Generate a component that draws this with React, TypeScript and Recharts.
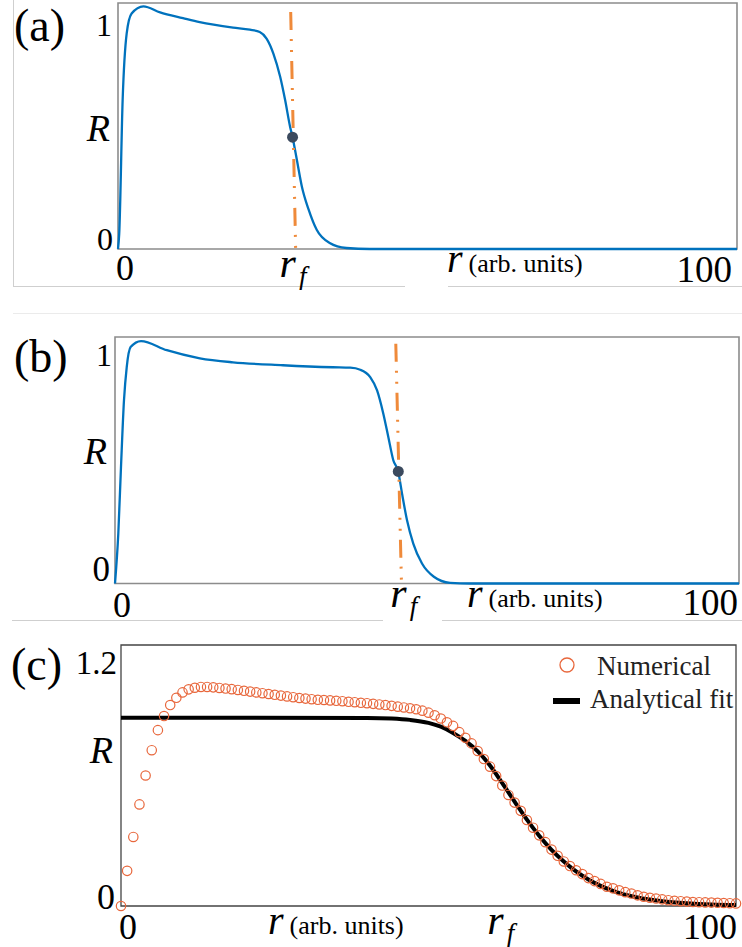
import React from 'react';
import {
  ComposedChart, Line, Scatter, XAxis, YAxis, Label, Legend,
  ReferenceArea, ReferenceLine, ReferenceDot,
} from 'recharts';

const SERIF = 'Liberation Serif, DejaVu Serif, serif';
const BLUE = '#0072bd';
const ORANGE = '#ef8a3a';
const DOT = '#3b4a5e';
const CIRCLE = '#e8673c';

// (a) profile R(r) with the front at r_f
const rA = [0, 0.2, 0.75, 1.4, 2.2, 4.1, 6.8, 10.5, 13.2, 18.6, 21.3, 22.9, 24.0, 25.1, 26.2, 27.0, 27.8, 28.2, 28.9, 29.7, 30.8, 32.1, 34.2, 36.9, 40.7, 60, 100];
const RA = [0, 0.07, 0.666, 0.963, 1.053, 1.085, 1.058, 1.032, 1.014, 0.99, 0.981, 0.97, 0.941, 0.874, 0.77, 0.666, 0.547, 0.5, 0.398, 0.28, 0.176, 0.086, 0.027, 0.0045, 0, 0, 0];
const frontA = 28.2;
const frontRA = 0.5;
const markerA = [{ r: 27.9, R: 1.06 }, { r: 28.7, R: 0 }];

// (b) same profile, front further out
const rB = [0, 0.53, 0.96, 1.44, 1.88, 2.5, 4.17, 8.3, 13.6, 18.9, 26.9, 34.9, 37.7, 39.3, 40.9, 42.0, 43.0, 43.8, 44.6, 45.4, 46.0, 46.8, 47.8, 49.2, 51.1, 53.7, 56.9, 80, 100];
const RB = [0, 0.223, 0.52, 0.818, 0.966, 1.055, 1.082, 1.041, 1.005, 0.987, 0.974, 0.965, 0.963, 0.954, 0.921, 0.862, 0.758, 0.654, 0.55, 0.498, 0.401, 0.282, 0.178, 0.089, 0.03, 0.003, 0, 0, 0];
const frontB = 45.4;
const frontRB = 0.5;
const markerB = [{ r: 45.0, R: 1.07 }, { r: 45.9, R: 0.01 }];

// (c) numerical solution on the unit grid vs analytical fit
const rNum = Array.from({ length: 101 }, (_, i) => i);
const RNum = [
  0, 0.175, 0.344, 0.506, 0.65, 0.776, 0.876, 0.946, 1.001, 1.037,
  1.064, 1.079, 1.087, 1.091, 1.091, 1.089, 1.086, 1.083, 1.08, 1.076,
  1.072, 1.068, 1.064, 1.06, 1.056, 1.052, 1.048, 1.044, 1.04, 1.036,
  1.033, 1.03, 1.027, 1.026, 1.024, 1.022, 1.02, 1.017, 1.015, 1.012,
  1.01, 1.007, 1.004, 1.001, 0.997, 0.993, 0.989, 0.985, 0.98, 0.973,
  0.963, 0.95, 0.934, 0.915, 0.897, 0.866, 0.838, 0.81, 0.772, 0.732,
  0.694, 0.647, 0.6, 0.553, 0.515, 0.474, 0.428, 0.39, 0.352, 0.318,
  0.281, 0.25, 0.222, 0.199, 0.178, 0.159, 0.139, 0.124, 0.11, 0.096,
  0.088, 0.078, 0.069, 0.062, 0.053, 0.046, 0.041, 0.037, 0.033, 0.029,
  0.026, 0.024, 0.022, 0.02, 0.019, 0.018, 0.017, 0.016, 0.015, 0.014,
  0.013,
];
const rFit = [0, 20, 40, 44, 47, 50, 52, 54, 56, 58, 60, 62, 64, 66, 68, 70, 72, 74, 76, 78, 80, 84, 88, 92, 96, 100];
const RFit = [0.938, 0.938, 0.937, 0.934, 0.927, 0.912, 0.893, 0.862, 0.822, 0.77, 0.7, 0.612, 0.52, 0.43, 0.35, 0.28, 0.222, 0.172, 0.132, 0.1, 0.075, 0.042, 0.024, 0.014, 0.008, 0.005];
const frontC = 62;

const yTicksAB = [0, 1];
const yTicksC = [0, 1.2];

const zip = (xs: number[], ys: number[]) => xs.map((r, i) => ({ r, R: ys[i] }));
const dataA = zip(rA, RA);
const dataB = zip(rB, RB);
const numData = zip(rNum, RNum);
const fitData = zip(rFit, RFit);

type Spec = { dx: number; dy: number; size: number };

const serif = (size: number, italic = false): React.CSSProperties => ({
  fontFamily: SERIF,
  fontSize: size,
  fontStyle: italic ? 'italic' : 'normal',
});

const yTick = (specs: Record<string, Spec>) => (props: any) => {
  const { x, y, payload } = props;
  const s = specs[String(payload.value)];
  return (
    <text x={x + s.dx} y={y + s.dy} textAnchor="end" style={serif(s.size)} fill="#000">
      {payload.value}
    </text>
  );
};

const xTick = (zero: Spec, front: Spec, end: Spec) => (props: any) => {
  const { x, y, payload } = props;
  const v = payload.value;
  if (v === 0) {
    return <text x={x + zero.dx} y={y + zero.dy} textAnchor="middle" style={serif(zero.size)} fill="#000">0</text>;
  }
  if (v === 100) {
    return <text x={x + end.dx} y={y + end.dy} textAnchor="end" style={serif(end.size)} fill="#000">100</text>;
  }
  return (
    <text x={x + front.dx} y={y + front.dy} style={serif(front.size, true)} fill="#000">
      r<tspan style={serif(27, true)} dx={3} dy={8}>f</tspan>
    </text>
  );
};

// panel tag and the R axis title, placed inside the y-axis box
const sideLabel = (tag: string, tagX: number, tagDy: number, rRight: number, rFrac: number) => (props: any) => {
  const { x, y, height } = props.viewBox;
  return (
    <g>
      <text x={x + tagX} y={y + tagDy} style={serif(46)} fill="#000">{tag}</text>
      <text x={x + rRight} y={y + rFrac * height} textAnchor="end" style={serif(38, true)} fill="#000">R</text>
    </g>
  );
};

const unitsLabel = (frac: number, dy: number) => (props: any) => {
  const { x, y, width } = props.viewBox;
  return (
    <text x={x + frac * width} y={y + dy} fill="#000">
      <tspan style={serif(40, true)}>r</tspan>
      <tspan style={serif(26)} dx={6}>(arb. units)</tspan>
    </text>
  );
};

const renderLegend = (props: any) => {
  const items = [...(props.payload || [])].sort((a: any) => (a.type === 'circle' ? -1 : 1));
  return (
    <svg width={200} height={80}>
      {items.map((it: any, i: number) =>
        it.type === 'circle' ? (
          <g key={i}>
            <circle cx={22} cy={20} r={7} fill="none" stroke={CIRCLE} strokeWidth={1.3} />
            <text x={52} y={30} style={serif(27)} fill="#222">{it.value}</text>
          </g>
        ) : (
          <g key={i}>
            <rect x={8} y={53} width={27} height={6} fill="#000" />
            <text x={45} y={63} style={serif(27)} fill="#222">{it.value}</text>
          </g>
        ),
      )}
    </svg>
  );
};

const ringShape = (p: any) => (
  <circle cx={p.cx} cy={p.cy} r={4.7} fill="none" stroke={CIRCLE} strokeWidth={1.2} />
);

const hLine = (left: number, top: number, width: number, color: string) => (
  <div style={{ position: 'absolute', left, top, width, height: 1, background: color }} />
);

export default function App() {
  return (
    <div style={{ position: 'absolute', left: 0, top: 0, width: 742, height: 947, background: '#fff', overflow: 'hidden', fontFamily: SERIF }}>
      {/* thin page rules between the panels */}
      <div style={{ position: 'absolute', left: 13, top: 0, width: 1, height: 286, background: '#cfcfcf' }} />
      {hLine(13, 286, 392, '#cfcfcf')}
      {hLine(448, 286, 294, '#cfcfcf')}
      {hLine(13, 313, 729, '#ebebeb')}
      {hLine(12, 620, 371, '#cfcfcf')}
      {hLine(442, 620, 300, '#cfcfcf')}

      {/* (a) */}
      <div style={{ position: 'absolute', left: 0, top: 0 }}>
        <ComposedChart width={742} height={290} data={dataA} margin={{ top: 3, right: 5, bottom: 0, left: 0 }}>
          <XAxis
            type="number" dataKey="r" domain={[0, 100]} ticks={[0, frontA, 100]} interval={0}
            axisLine={false} tickLine={false} tickSize={0} tickMargin={0} height={41}
            tick={xTick({ dx: 7, dy: 31, size: 36 }, { dx: -13, dy: 28, size: 42 }, { dx: -5, dy: 33, size: 37 })}
          >
            <Label content={unitsLabel(0.5315, 23)} />
          </XAxis>
          <YAxis
            type="number" domain={[0, 1.1]} ticks={yTicksAB} interval={0}
            axisLine={false} tickLine={false} tickSize={0} tickMargin={0} width={118}
            tick={yTick({ '1': { dx: -6, dy: 11, size: 32 }, '0': { dx: -5, dy: 1, size: 32 } })}
          >
            <Label content={sideLabel('(a)', 14, 38, 110, 0.56)} />
          </YAxis>
          <ReferenceArea x1={0} x2={100} y1={0} y2={1.1} fill="none" stroke="#8c8c8c" strokeWidth={1.6} />
          <Line type="monotone" dataKey="R" stroke={BLUE} strokeWidth={2.3} dot={false} isAnimationActive={false} />
          <ReferenceLine
            segment={[{ x: markerA[0].r, y: markerA[0].R }, { x: markerA[1].r, y: markerA[1].R }]}
            stroke={ORANGE} strokeWidth={3} strokeDasharray="18 9 2 9 2 9"
          />
          <ReferenceDot x={frontA} y={frontRA} r={5.5} fill={DOT} stroke="none" />
        </ComposedChart>
      </div>

      {/* (b) */}
      <div style={{ position: 'absolute', left: 0, top: 300 }}>
        <ComposedChart width={742} height={325} data={dataB} margin={{ top: 37, right: 3, bottom: 0, left: 0 }}>
          <XAxis
            type="number" dataKey="r" domain={[0, 100]} ticks={[0, frontB, 100]} interval={0}
            axisLine={false} tickLine={false} tickSize={0} tickMargin={0} height={41.5}
            tick={xTick({ dx: 7, dy: 33.5, size: 36 }, { dx: -8, dy: 23.5, size: 42 }, { dx: -1, dy: 31.5, size: 37 })}
          >
            <Label content={unitsLabel(0.564, 23.5)} />
          </XAxis>
          <YAxis
            type="number" domain={[0, 1.1]} ticks={yTicksAB} interval={0}
            axisLine={false} tickLine={false} tickSize={0} tickMargin={0} width={115}
            tick={yTick({ '1': { dx: -3, dy: 7, size: 32 }, '0': { dx: -5, dy: -2.5, size: 35 } })}
          >
            <Label content={sideLabel('(b)', 14, 35, 107, 0.515)} />
          </YAxis>
          <ReferenceArea x1={0} x2={100} y1={0} y2={1.1} fill="none" stroke="#8c8c8c" strokeWidth={1.6} />
          <Line type="monotone" dataKey="R" stroke={BLUE} strokeWidth={2.3} dot={false} isAnimationActive={false} />
          <ReferenceLine
            segment={[{ x: markerB[0].r, y: markerB[0].R }, { x: markerB[1].r, y: markerB[1].R }]}
            stroke={ORANGE} strokeWidth={3} strokeDasharray="18 9 2 9 2 9"
          />
          <ReferenceDot x={frontB} y={frontRB} r={5.5} fill={DOT} stroke="none" />
        </ComposedChart>
      </div>

      {/* (c) */}
      <div style={{ position: 'absolute', left: 0, top: 625 }}>
        <ComposedChart width={742} height={322} margin={{ top: 20, right: 6, bottom: 0, left: 0 }}>
          <XAxis
            type="number" dataKey="r" domain={[0, 100]} ticks={[0, frontC, 100]} interval={0}
            axisLine={false} tickLine={false} tickSize={0} tickMargin={0} height={41}
            tick={xTick({ dx: 7, dy: 33, size: 36 }, { dx: -15, dy: 28, size: 42 }, { dx: 1, dy: 33, size: 36 })}
          >
            <Label content={unitsLabel(0.239, 28)} />
          </XAxis>
          <YAxis
            type="number" domain={[0, 1.3]} ticks={yTicksC} interval={0}
            axisLine={false} tickLine={false} tickSize={0} tickMargin={0} width={121}
            tick={yTick({ '1.2': { dx: -4, dy: 9, size: 33 }, '0': { dx: -6, dy: 3, size: 36 } })}
          >
            <Label content={sideLabel('(c)', 11, 35, 113, 0.452)} />
          </YAxis>
          <ReferenceArea x1={0} x2={100} y1={0} y2={1.3} fill="none" stroke="#444" strokeWidth={1.3} />
          <Line
            data={fitData} type="monotone" dataKey="R" name="Analytical fit" legendType="rect"
            stroke="#000" strokeWidth={4} dot={false} isAnimationActive={false}
          />
          <Scatter
            data={numData} dataKey="R" name="Numerical" legendType="circle"
            shape={ringShape} isAnimationActive={false}
          />
          <Legend
            layout="vertical" align="center" verticalAlign="middle" content={renderLegend}
            wrapperStyle={{ left: 545, top: 20, width: 200, height: 80 }}
          />
        </ComposedChart>
      </div>
    </div>
  );
}
